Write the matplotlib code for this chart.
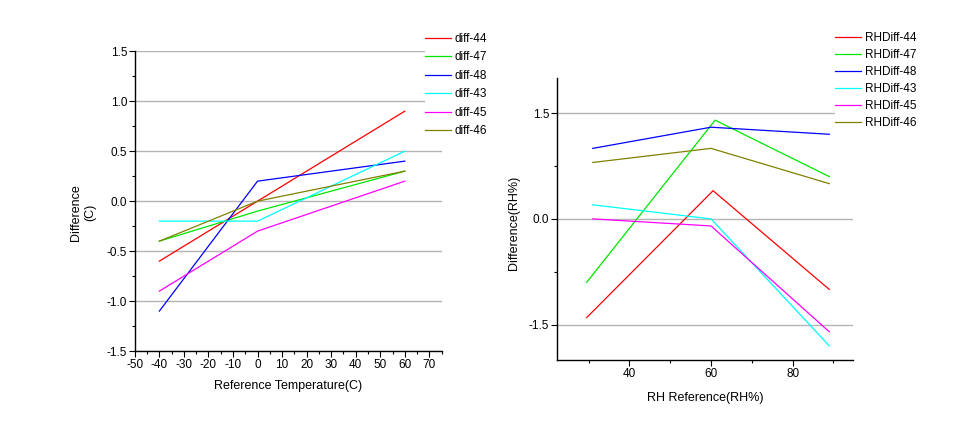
import matplotlib
matplotlib.use("Agg")
import matplotlib.pyplot as plt
from matplotlib.ticker import MultipleLocator

plt.rcParams["font.family"] = ["Liberation Sans", "DejaVu Sans"]
plt.rcParams["axes.unicode_minus"] = False

colors = ["#ff0000", "#00e600", "#0000ff", "#00ffff", "#ff00ff", "#808000"]

# left chart: temperature difference
temp_labels = ["diff-44", "diff-47", "diff-48", "diff-43", "diff-45", "diff-46"]
temp_x = [-40, 0, 60]
temp_y = [
    [-0.6, 0.0, 0.9],
    [-0.4, -0.1, 0.3],
    [-1.1, 0.2, 0.4],
    [-0.2, -0.2, 0.5],
    [-0.9, -0.3, 0.2],
    [-0.4, 0.0, 0.3],
]

# right chart: RH difference
rh_labels = ["RHDiff-44", "RHDiff-47", "RHDiff-48", "RHDiff-43", "RHDiff-45", "RHDiff-46"]
rh_x = [
    [29.5, 60.5, 89],
    [29.5, 61, 89],
    [31, 60, 89],
    [31, 60, 89],
    [31, 60, 89],
    [31, 60, 89],
]
rh_y = [
    [-1.4, 0.4, -1.0],
    [-0.9, 1.4, 0.6],
    [1.0, 1.3, 1.2],
    [0.2, 0.0, -1.8],
    [0.0, -0.1, -1.6],
    [0.8, 1.0, 0.5],
]

fig = plt.figure(figsize=(9.77, 4.23), dpi=100)
ax1 = fig.add_axes([0.138, 0.170, 0.314, 0.709])
ax2 = fig.add_axes([0.570, 0.149, 0.303, 0.667])


def style(ax):
    for side in ("top", "right"):
        ax.spines[side].set_visible(False)
    for side in ("left", "bottom"):
        ax.spines[side].set_linewidth(1.0)
    ax.tick_params(which="major", direction="out", length=4, width=0.8, labelsize=8.5, pad=1.5)
    ax.tick_params(which="minor", direction="out", length=2.5, width=0.8)
    ax.yaxis.grid(True, color="#b4b4b4", linewidth=1.0)
    ax.set_axisbelow(True)


for lbl, ys, c in zip(temp_labels, temp_y, colors):
    ax1.plot(temp_x, ys, color=c, linewidth=0.9, label=lbl)
ax1.set_xlim(-50, 75)
ax1.set_ylim(-1.5, 1.5)
ax1.xaxis.set_major_locator(MultipleLocator(10))
ax1.xaxis.set_minor_locator(MultipleLocator(5))
ax1.yaxis.set_major_locator(MultipleLocator(0.5))
ax1.yaxis.set_minor_locator(MultipleLocator(0.25))
ax1.yaxis.set_major_formatter(plt.FuncFormatter(lambda v, p: f"{v:.1f}"))
style(ax1)
ax1.set_xlabel("Reference Temperature(C)", fontsize=9, labelpad=7)
ax1.set_ylabel("Difference\n(C)", fontsize=9, linespacing=1.2)
ax1.yaxis.set_label_coords(-0.127, 0.463)

for lbl, xs, ys, c in zip(rh_labels, rh_x, rh_y, colors):
    ax2.plot(xs, ys, color=c, linewidth=0.9, label=lbl)
ax2.set_xlim(22.2, 94.8)
ax2.set_ylim(-2.0, 2.0)
ax2.xaxis.set_major_locator(MultipleLocator(20))
ax2.xaxis.set_minor_locator(MultipleLocator(10))
ax2.yaxis.set_major_locator(MultipleLocator(1.5))
ax2.yaxis.set_minor_locator(MultipleLocator(0.75))
ax2.yaxis.set_major_formatter(plt.FuncFormatter(lambda v, p: f"{v:.1f}"))
style(ax2)
ax2.set_xlabel("RH Reference(RH%)", fontsize=9, labelpad=9)
ax2.set_ylabel("Difference(RH%)", fontsize=9)
ax2.yaxis.set_label_coords(-0.125, 0.486)


def add_legend(ax, x, y, spacing):
    h, l = ax.get_legend_handles_labels()
    leg = fig.legend(h, l, loc="upper left", bbox_to_anchor=(x, y),
                     frameon=True, fontsize=8.5, handlelength=2.2, handletextpad=0.3,
                     labelspacing=spacing, borderpad=0.0, borderaxespad=0)
    leg.get_frame().set_edgecolor("white")
    leg.get_frame().set_facecolor("white")
    leg.get_frame().set_alpha(1.0)
    leg.get_frame().set_linewidth(0)
    return leg


add_legend(ax1, 0.435, 0.922, 0.55)
add_legend(ax2, 0.855, 0.925, 0.43)

fig.savefig("out.png", dpi=100)
